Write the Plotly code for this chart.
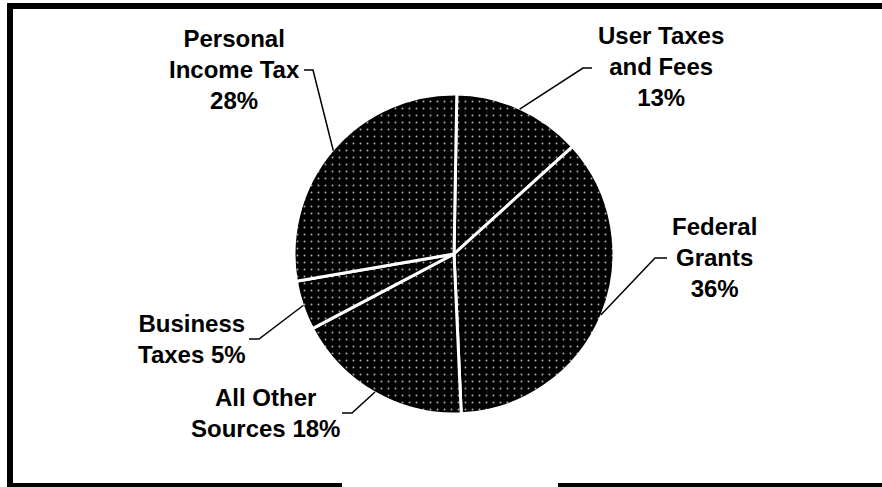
import math
import plotly.graph_objects as go

# ---- data ----
categories = ["User Taxes and Fees", "Federal Grants", "All Other Sources",
              "Business Taxes", "Personal Income Tax"]
shares = [13, 36, 18, 5, 28]
label_texts = ["User Taxes<br>and Fees<br>13%", "Federal<br>Grants<br>36%",
               "All Other<br>Sources 18%", "Business<br>Taxes 5%",
               "Personal<br>Income Tax<br>28%"]

# ---- layout constants (pixels) ----
W, H = 882, 487
CX, CY, R = 454, 254, 160
ROTATION = 1

# label centre positions and leader elbow/tick positions (pixels)
label_pos = [(661, 67), (714, 257), (265, 413), (192, 339), (234, 69)]
tick_start = [(592, 68), (667, 258), (342, 413), (249, 339), (304, 70)]
tick_elbow = [(583, 68), (655, 258), (352, 413), (259, 339), (313, 70)]


def px(x, y):
    return x / W, 1 - y / H


fig = go.Figure()
fig.add_trace(go.Pie(
    labels=categories,
    values=shares,
    sort=False,
    direction="clockwise",
    rotation=ROTATION,
    textinfo="none",
    hoverinfo="label+percent",
    showlegend=False,
    marker=dict(
        colors=["black"] * len(shares),
        line=dict(color="white", width=3),
        pattern=dict(shape=".", fgcolor="#b0b0b0", bgcolor="black",
                     size=7, solidity=0.06, fillmode="replace"),
    ),
    domain=dict(x=[(CX - R) / W, (CX + R) / W],
                y=[1 - (CY + R) / H, 1 - (CY - R) / H]),
))

shapes = []
annotations = []
total = sum(shares)
cum = 0
for i, v in enumerate(shares):
    mid = math.radians(ROTATION + 360 * (cum + v / 2) / total)
    cum += v
    ex = CX + (R - 1) * math.sin(mid)
    ey = CY - (R - 1) * math.cos(mid)
    sx, sy = px(*tick_start[i])
    bx, by = px(*tick_elbow[i])
    exp, eyp = px(ex, ey)
    shapes.append(dict(type="path", xref="paper", yref="paper",
                       path=f"M {sx} {sy} L {bx} {by} L {exp} {eyp}",
                       line=dict(color="black", width=1.5)))
    lx, ly = px(*label_pos[i])
    annotations.append(dict(x=lx, y=ly, xref="paper", yref="paper",
                            text=label_texts[i], showarrow=False,
                            xanchor="center", yanchor="middle", align="center",
                            font=dict(family="Liberation Sans, Arial", size=24,
                                      color="black", weight="bold")))

# frame (right side lies outside the picture, bottom has a gap)
frame = [((7, 6), (890, 6)), ((10, 3), (10, 492)),
         ((7, 486), (342, 486)), ((558, 486), (890, 486))]
for (x0, y0), (x1, y1) in frame:
    a0, b0 = px(x0, y0)
    a1, b1 = px(x1, y1)
    shapes.append(dict(type="line", xref="paper", yref="paper",
                       x0=a0, y0=b0, x1=a1, y1=b1,
                       line=dict(color="black", width=6)))

fig.update_layout(
    width=W, height=H,
    margin=dict(l=0, r=0, t=0, b=0),
    paper_bgcolor="white", plot_bgcolor="white",
    shapes=shapes, annotations=annotations,
)

fig.write_html("out.html",
               config={"displayModeBar": False},
               post_script="document.body.style.margin='0';"
                           "document.body.style.overflow='hidden';")
